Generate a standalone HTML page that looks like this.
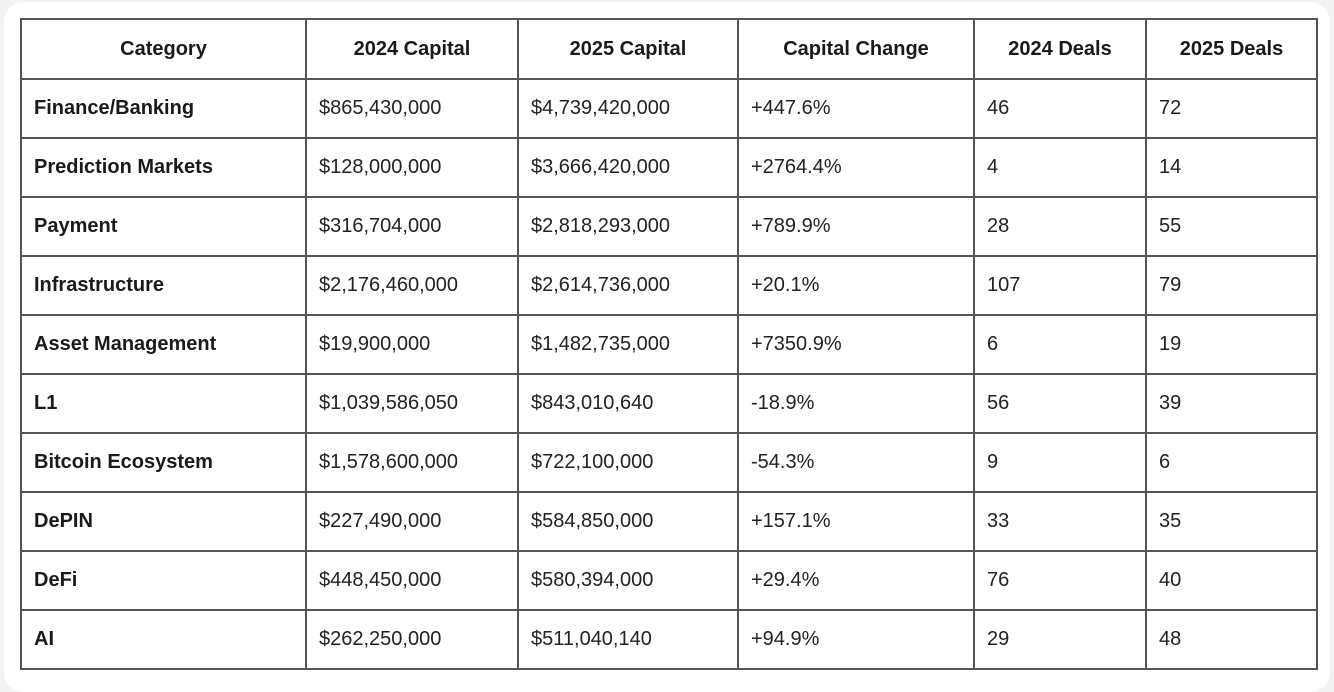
<!DOCTYPE html>
<html><head><style>
html,body{margin:0;padding:0;width:1334px;height:678px;background:#f3f3f3;overflow:hidden}
.card{position:absolute;left:4px;top:2px;width:1326px;height:690px;background:#fff;border-radius:20px}
table{position:absolute;left:20px;top:18px;border-collapse:collapse;table-layout:fixed;font-family:"Liberation Sans",sans-serif;font-size:20px;color:#222}
td,th{border:2px solid #555;height:57px;padding:0 0 0 12px;text-align:left;white-space:nowrap}
th{height:58px;text-align:center;padding:0;font-weight:bold;font-size:20px;color:#1a1a1a}
td:first-child{font-weight:bold;color:#1a1a1a}
</style></head><body><div class="card"></div>
<table>
<colgroup><col style="width:285px"><col style="width:212px"><col style="width:220px"><col style="width:236px"><col style="width:172px"><col style="width:171px"></colgroup>
<tr><th>Category</th><th>2024 Capital</th><th>2025 Capital</th><th>Capital Change</th><th>2024 Deals</th><th>2025 Deals</th></tr>
<tr><td>Finance/Banking</td><td>$865,430,000</td><td>$4,739,420,000</td><td>+447.6%</td><td>46</td><td>72</td></tr>
<tr><td>Prediction Markets</td><td>$128,000,000</td><td>$3,666,420,000</td><td>+2764.4%</td><td>4</td><td>14</td></tr>
<tr><td>Payment</td><td>$316,704,000</td><td>$2,818,293,000</td><td>+789.9%</td><td>28</td><td>55</td></tr>
<tr><td>Infrastructure</td><td>$2,176,460,000</td><td>$2,614,736,000</td><td>+20.1%</td><td>107</td><td>79</td></tr>
<tr><td>Asset Management</td><td>$19,900,000</td><td>$1,482,735,000</td><td>+7350.9%</td><td>6</td><td>19</td></tr>
<tr><td>L1</td><td>$1,039,586,050</td><td>$843,010,640</td><td>-18.9%</td><td>56</td><td>39</td></tr>
<tr><td>Bitcoin Ecosystem</td><td>$1,578,600,000</td><td>$722,100,000</td><td>-54.3%</td><td>9</td><td>6</td></tr>
<tr><td>DePIN</td><td>$227,490,000</td><td>$584,850,000</td><td>+157.1%</td><td>33</td><td>35</td></tr>
<tr><td>DeFi</td><td>$448,450,000</td><td>$580,394,000</td><td>+29.4%</td><td>76</td><td>40</td></tr>
<tr><td>AI</td><td>$262,250,000</td><td>$511,040,140</td><td>+94.9%</td><td>29</td><td>48</td></tr>
</table>
</body></html>
